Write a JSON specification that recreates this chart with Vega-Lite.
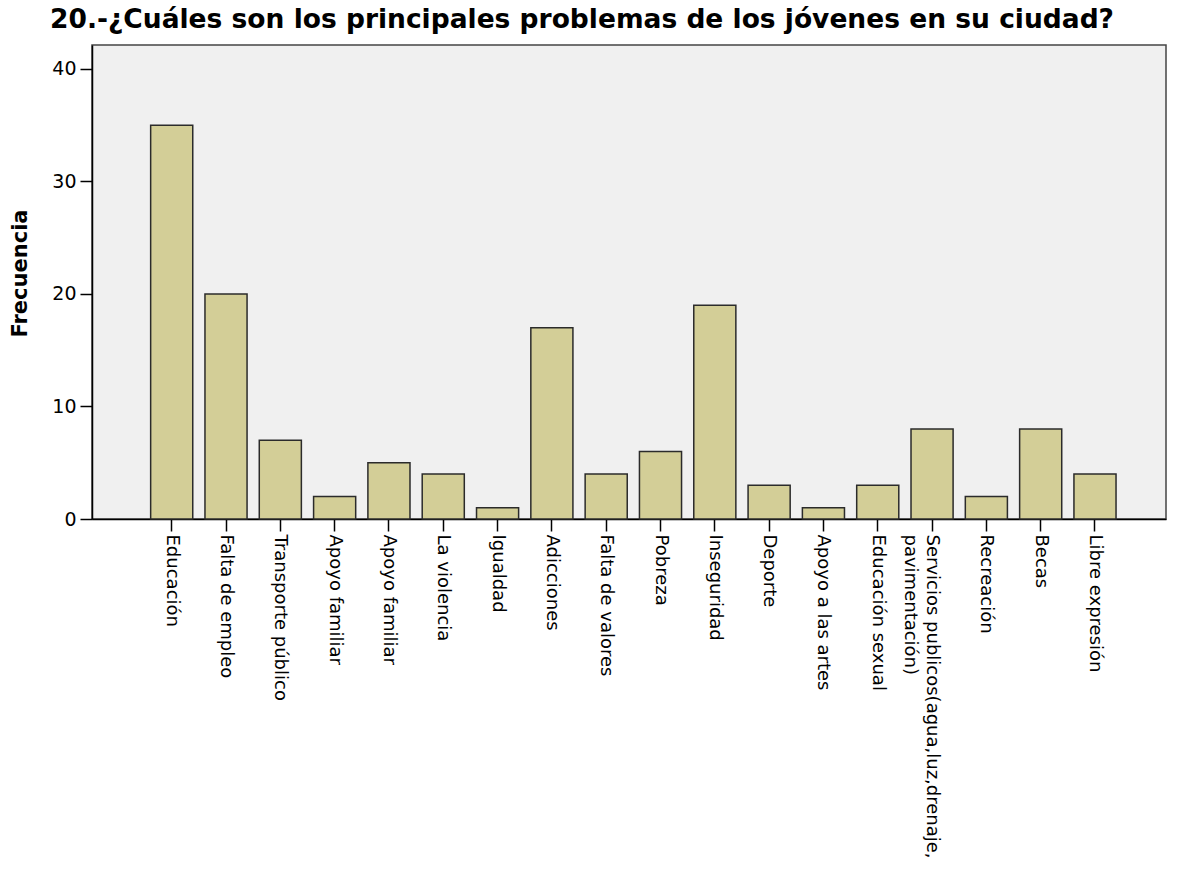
{
  "$schema": "https://vega.github.io/schema/vega-lite/v6.json",
  "autosize": "none",
  "width": 1074,
  "height": 474,
  "padding": {"left": 92, "top": 45, "right": 12, "bottom": 352},
  "background": "white",
  "title": {
    "text": "20.-¿Cuáles son los principales problemas de los jóvenes en su ciudad?",
    "font": "DejaVu Sans",
    "fontSize": 26.5,
    "fontWeight": "bold",
    "color": "#000000",
    "anchor": "start",
    "frame": "group",
    "dx": -42,
    "offset": 12
  },
  "data": {
    "values": [
      {"categoria": "Educación", "frecuencia": 35},
      {"categoria": "Falta de empleo", "frecuencia": 20},
      {"categoria": "Transporte público", "frecuencia": 7},
      {"categoria": "Apoyo familiar", "frecuencia": 2},
      {"categoria": "Apoyo familiar ", "frecuencia": 5},
      {"categoria": "La violencia", "frecuencia": 4},
      {"categoria": "Igualdad", "frecuencia": 1},
      {"categoria": "Adicciones", "frecuencia": 17},
      {"categoria": "Falta de valores", "frecuencia": 4},
      {"categoria": "Pobreza", "frecuencia": 6},
      {"categoria": "Inseguridad", "frecuencia": 19},
      {"categoria": "Deporte", "frecuencia": 3},
      {"categoria": "Apoyo a las artes", "frecuencia": 1},
      {"categoria": "Educación sexual", "frecuencia": 3},
      {"categoria": "Servicios publicos(agua,luz,drenaje, pavimentación)", "frecuencia": 8},
      {"categoria": "Recreación", "frecuencia": 2},
      {"categoria": "Becas", "frecuencia": 8},
      {"categoria": "Libre expresión", "frecuencia": 4}
    ]
  },
  "mark": {"type": "bar", "fill": "#D3CE97", "stroke": "#2b2b2b", "strokeWidth": 1.5},
  "encoding": {
    "x": {
      "field": "categoria",
      "type": "nominal",
      "sort": null,
      "scale": {"paddingInner": 0.225, "paddingOuter": 1.02, "align": 0.54},
      "axis": {
        "title": null,
        "labelAngle": 90,
        "labelFont": "DejaVu Sans",
        "labelFontSize": 18,
        "labelColor": "#000000",
        "labelPadding": 3,
        "labelLimit": 400,
        "labelLineHeight": 22,
        "labelExpr": "indexof(datum.label, ', ') > 0 ? [substring(datum.label, 0, indexof(datum.label, ', ') + 1), substring(datum.label, indexof(datum.label, ', ') + 2)] : datum.label",
        "tickSize": 12,
        "tickColor": "#000000",
        "tickWidth": 1.5,
        "domainColor": "#000000",
        "domainWidth": 1.5
      }
    },
    "y": {
      "field": "frecuencia",
      "type": "quantitative",
      "scale": {"domain": [0, 42.13], "nice": false},
      "axis": {
        "title": "Frecuencia",
        "titleFont": "DejaVu Sans",
        "titleFontSize": 21,
        "titleFontWeight": "bold",
        "titleColor": "#000000",
        "titleAngle": -90,
        "titleX": -72,
        "titleY": 228,
        "titleAlign": "center",
        "titleBaseline": "middle",
        "values": [0, 10, 20, 30, 40],
        "grid": false,
        "labelFont": "DejaVu Sans",
        "labelFontSize": 19,
        "labelColor": "#000000",
        "labelPadding": 4,
        "tickSize": 12,
        "tickColor": "#000000",
        "tickWidth": 1.5,
        "domainColor": "#000000",
        "domainWidth": 1.5
      }
    }
  },
  "config": {
    "view": {"fill": "#F0F0F0", "stroke": "#444444", "strokeWidth": 1.5}
  }
}
